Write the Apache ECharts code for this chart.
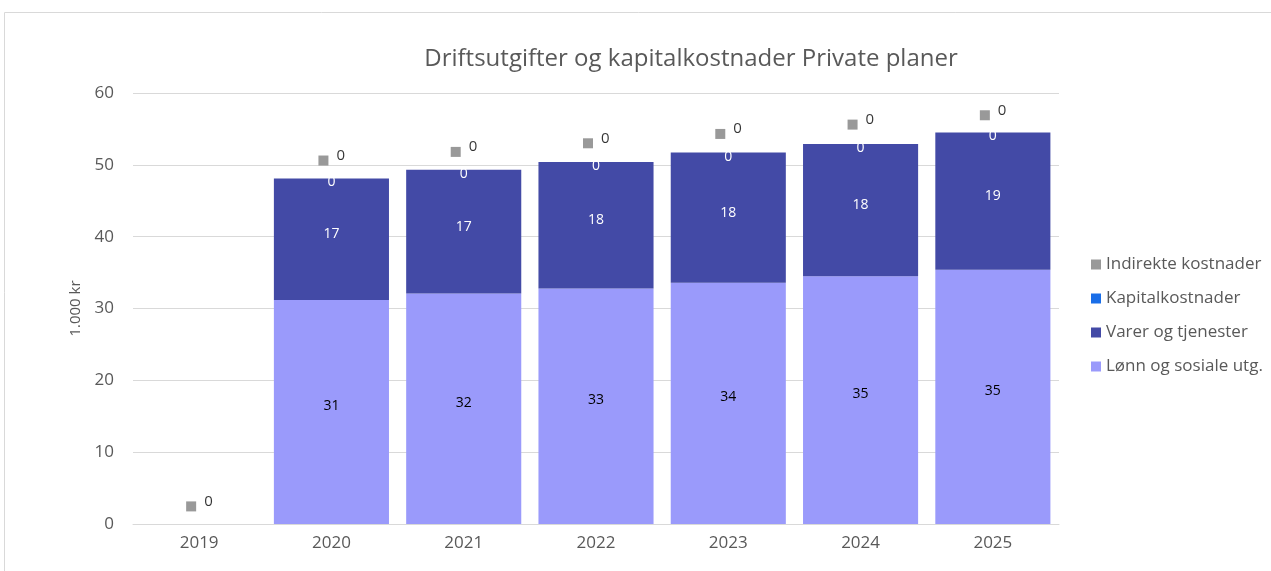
<!DOCTYPE html>
<html>
<head>
<meta charset="utf-8">
<script src="https://cdn.jsdelivr.net/npm/echarts@6/dist/echarts.min.js"></script>
<style>
html,body{margin:0;padding:0;background:#fff;}
#chart{width:1271px;height:571px;}
</style>
</head>
<body>
<div id="chart"></div>
<script>
var years = ['2019','2020','2021','2022','2023','2024','2025'];
var lonn = [null, 31.2, 32.1, 32.8, 33.6, 34.5, 35.4];
var varer = [null, 16.9, 17.2, 17.6, 18.1, 18.4, 19.1];
var kapital = [null, 0, 0, 0, 0, 0, 0];
// indirekte kostnader: verdi 0, markør tegnet litt over stabelen
var indirekte = [0, 0, 0, 0, 0, 0, 0];
var indirektePos = [2.45, 50.6, 51.8, 53.0, 54.3, 55.6, 56.9];
var yTicks = [0, 10, 20, 30, 40, 50, 60];

var font = '"Open Sans", "Noto Sans", sans-serif';
var chart = echarts.init(document.getElementById('chart'));

chart.setOption({
    animation: false,
    textStyle: {fontFamily: font},
    title: {
        text: 'Driftsutgifter og kapitalkostnader Private planer',
        left: 686,
        top: 42,
        textAlign: 'center',
        textStyle: {fontSize: 24, fontWeight: 'normal', color: '#595959', fontFamily: font}
    },
    graphic: [{
        type: 'rect',
        shape: {x: 4.5, y: 12.5, width: 1300, height: 600},
        style: {fill: 'none', stroke: '#d9d9d9', lineWidth: 1},
        silent: true
    }],
    legend: {
        orient: 'vertical',
        left: 1086,
        top: 251,
        itemGap: 17,
        itemWidth: 10,
        itemHeight: 10,
        icon: 'rect',
        data: ['Indirekte kostnader', 'Kapitalkostnader', 'Varer og tjenester', 'Lønn og sosiale utg.'],
        textStyle: {fontSize: 17, color: '#595959', fontFamily: font, padding: [0, 0, 6, 0]}
    },
    grid: {left: 133, right: 212, top: 93, bottom: 47},
    xAxis: {
        type: 'category',
        data: years,
        axisTick: {show: false},
        axisLine: {lineStyle: {color: '#d9d9d9', width: 1}},
        axisLabel: {fontSize: 17, color: '#595959', margin: 11}
    },
    yAxis: {
        type: 'value',
        min: yTicks[0],
        max: yTicks[yTicks.length - 1],
        interval: 10,
        name: '1.000 kr',
        nameLocation: 'middle',
        nameGap: 50,
        nameTextStyle: {fontSize: 15, color: '#595959'},
        axisLine: {show: false},
        axisTick: {show: false},
        axisLabel: {fontSize: 17, color: '#595959', margin: 19},
        splitLine: {lineStyle: {color: '#d9d9d9', width: 1}}
    },
    series: [
        {
            name: 'Lønn og sosiale utg.',
            type: 'bar',
            stack: 'tot',
            barCategoryGap: '13%',
            data: lonn,
            itemStyle: {color: '#9a9afb'},
            label: {
                show: true, position: 'inside', offset: [0, -6], color: '#000', fontSize: 14,
                formatter: function (p) { return Math.round(p.value); }
            }
        },
        {
            name: 'Varer og tjenester',
            type: 'bar',
            stack: 'tot',
            data: varer,
            itemStyle: {color: '#434aa6'},
            label: {
                show: true, position: 'inside', offset: [0, -5], color: '#fff', fontSize: 14,
                formatter: function (p) { return Math.round(p.value); }
            }
        },
        {
            name: 'Kapitalkostnader',
            type: 'bar',
            stack: 'tot',
            data: kapital,
            itemStyle: {color: '#1a6ee8'},
            label: {
                show: true, position: 'inside', offset: [0, 4], color: '#fff', fontSize: 14,
                formatter: function (p) { return Math.round(p.value); }
            }
        },
        {
            name: 'Indirekte kostnader',
            type: 'scatter',
            data: indirektePos,
            symbol: 'rect',
            symbolSize: 10,
            symbolOffset: [-8, 0],
            itemStyle: {color: '#808080'},
            label: {
                show: true, position: 'right', distance: 8, offset: [0, -5],
                color: '#000', fontSize: 15,
                formatter: function (p) { return indirekte[p.dataIndex]; }
            }
        }
    ]
});
</script>
</body>
</html>
